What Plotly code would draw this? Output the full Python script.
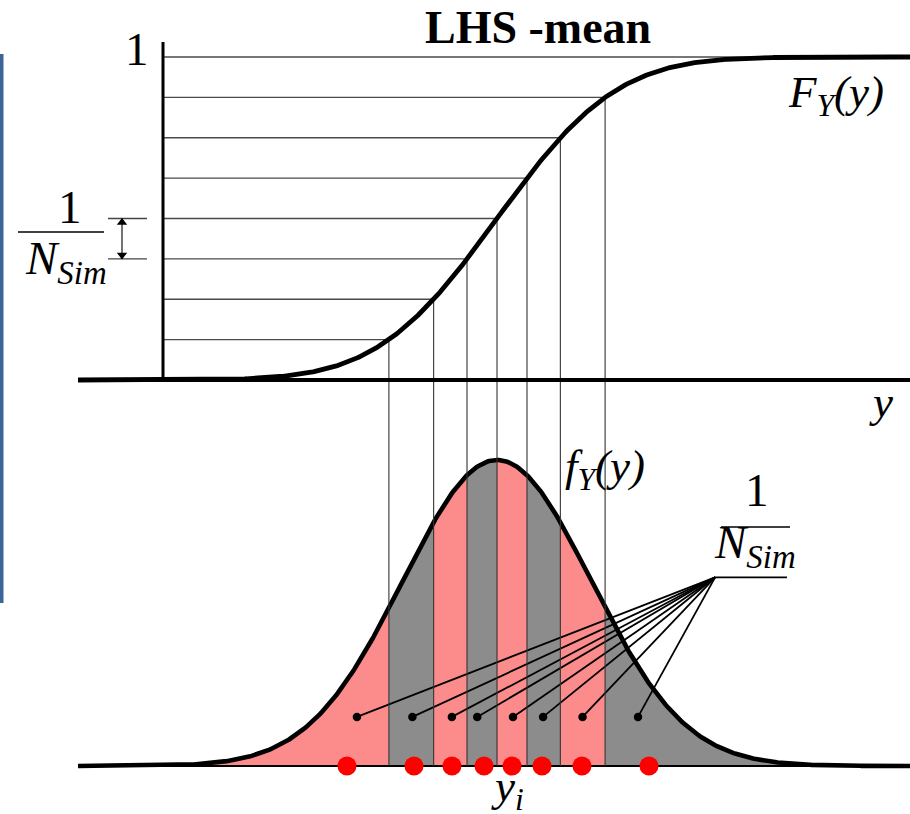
import math
import numpy as np
import plotly.graph_objects as go

W, H = 910, 814
SERIF = "Liberation Serif, Times New Roman, serif"

# ---- distribution of the output y (standard normal) ----
MU, SIGMA = 0.0, 1.0
N_SIM = 8

# probability levels k / N_Sim marked on the CDF axis
prob_levels = [1/8, 2/8, 3/8, 4/8, 5/8, 6/8, 7/8, 1.0]
# stratum edges on the y axis (where F_Y(y) = k / N_Sim)
strata_edges = [-1.150, -0.674, -0.319, 0.0, 0.319, 0.674, 1.150]
strata_colors = ["#fc8c8c", "#8c8c8c", "#fc8c8c", "#8c8c8c",
                 "#fc8c8c", "#8c8c8c", "#fc8c8c", "#8c8c8c"]
# LHS-mean sample points y_i (one per stratum)
y_samples = [-1.596, -0.883, -0.479, -0.138, 0.160, 0.479, 0.904, 1.617]
# dots inside each stratum, pointing to the 1/N_Sim label
label_dots_x = [-1.49, -0.90, -0.48, -0.21, 0.17, 0.49, 0.91, 1.50]
label_dot_level = 0.064
label_hub = (2.32, 0.246)
label_hub_end = 3.085
# bracket showing one probability step on the CDF axis
bracket_levels = [3/8, 4/8]

# ---- page geometry (pixels) ----
X_CENTER_PX, PX_PER_SIGMA = 497, 94
CDF_ZERO_PX, CDF_ONE_PX = 380, 57
PDF_ZERO_PX, PDF_PEAK_PX = 766, 460
AXIS_X_PX, AXIS_TOP_PX = 163, 42
CURVE_START_PX = 78


def xdata(px):
    return (px - X_CENTER_PX) / PX_PER_SIGMA


def pdf(y):
    y = np.asarray(y, dtype=float)
    return np.exp(-0.5 * ((y - MU) / SIGMA) ** 2) / (SIGMA * math.sqrt(2 * math.pi))


def cdf(y):
    return np.array([0.5 * (1 + math.erf((v - MU) / (SIGMA * math.sqrt(2)))) for v in np.atleast_1d(y)])


PEAK = float(pdf(MU))
cdf_scale = CDF_ZERO_PX - CDF_ONE_PX               # px per probability unit
pdf_scale = (PDF_ZERO_PX - PDF_PEAK_PX) / PEAK     # px per density unit
x_range = [xdata(0), xdata(W)]
y2_range = [-(H - CDF_ZERO_PX) / cdf_scale, CDF_ZERO_PX / cdf_scale]
y_range = [-(H - PDF_ZERO_PX) / pdf_scale, PDF_ZERO_PX / pdf_scale]
pdf_base_in_cdf = -(PDF_ZERO_PX - CDF_ZERO_PX) / cdf_scale

x_lo, x_hi = xdata(CURVE_START_PX), x_range[1]
x_axis = xdata(AXIS_X_PX)

fig = go.Figure()

# ---- strata under the density ----
bounds = [x_lo] + strata_edges + [x_hi]
for i in range(N_SIM):
    xs = np.linspace(bounds[i], bounds[i + 1], 120)
    fx = np.concatenate([xs, xs[::-1]])
    fy = np.concatenate([pdf(xs), np.zeros_like(xs)])
    fig.add_trace(go.Scatter(x=fx, y=fy, fill="toself", fillcolor=strata_colors[i],
                             mode="lines", line=dict(width=0), hoverinfo="skip",
                             yaxis="y"))

# ---- horizontal probability levels on the CDF panel ----
hx, hy = [], []
for k, p in enumerate(prob_levels):
    end = strata_edges[k] if k < len(strata_edges) else x_hi
    hx += [x_axis, end, None]
    hy += [p, p, None]
fig.add_trace(go.Scatter(x=hx, y=hy, mode="lines", line=dict(color="#4a4a4a", width=1.4),
                         hoverinfo="skip", yaxis="y2"))

# ---- vertical projections from CDF down to the density baseline ----
vx, vy = [], []
for k, e in enumerate(strata_edges):
    vx += [e, e, None]
    vy += [prob_levels[k], pdf_base_in_cdf, None]
fig.add_trace(go.Scatter(x=vx, y=vy, mode="lines", line=dict(color="#333333", width=1.1),
                         hoverinfo="skip", yaxis="y2"))

# ---- baselines and CDF axis ----
fig.add_trace(go.Scatter(x=[x_lo, x_hi], y=[0, 0], mode="lines",
                         line=dict(color="black", width=2.2), hoverinfo="skip", yaxis="y"))
fig.add_trace(go.Scatter(x=[x_lo, x_hi], y=[0, 0], mode="lines",
                         line=dict(color="black", width=3.8), hoverinfo="skip", yaxis="y2"))
fig.add_trace(go.Scatter(x=[x_axis, x_axis], y=[0, (CDF_ZERO_PX - AXIS_TOP_PX) / cdf_scale],
                         mode="lines", line=dict(color="black", width=3),
                         hoverinfo="skip", yaxis="y2"))

# ---- curves ----
xc = np.linspace(x_lo, x_hi, 600)
fig.add_trace(go.Scatter(x=xc, y=cdf(xc), mode="lines", line=dict(color="black", width=4.8),
                         hoverinfo="skip", yaxis="y2"))
fig.add_trace(go.Scatter(x=xc, y=pdf(xc), mode="lines", line=dict(color="black", width=4.6),
                         hoverinfo="skip", yaxis="y"))

# ---- leader lines to the 1/N_Sim label ----
lx, ly = [], []
for dx in label_dots_x:
    lx += [dx, label_hub[0], None]
    ly += [label_dot_level, label_hub[1], None]
lx += [label_hub[0], label_hub_end]
ly += [label_hub[1], label_hub[1]]
fig.add_trace(go.Scatter(x=lx, y=ly, mode="lines", line=dict(color="black", width=1.8),
                         hoverinfo="skip", yaxis="y"))
fig.add_trace(go.Scatter(x=label_dots_x, y=[label_dot_level] * len(label_dots_x),
                         mode="markers", marker=dict(color="black", size=8.5),
                         hoverinfo="skip", yaxis="y"))

# ---- sample points y_i ----
fig.add_trace(go.Scatter(x=y_samples, y=[0] * len(y_samples), mode="markers",
                         marker=dict(color="#ff0000", size=19, line=dict(width=0)),
                         cliponaxis=False, hoverinfo="skip", yaxis="y"))

# ---- bracket for one probability step ----
bx0, bx1, barrow = xdata(108), xdata(147), xdata(122)
fig.add_trace(go.Scatter(x=[bx0, bx1, None, bx0, bx1],
                         y=[bracket_levels[0], bracket_levels[0], None,
                            bracket_levels[1], bracket_levels[1]],
                         mode="lines", line=dict(color="#444444", width=1.3),
                         hoverinfo="skip", yaxis="y2"))
fig.add_trace(go.Scatter(x=[barrow, barrow], y=bracket_levels, mode="lines",
                         line=dict(color="black", width=1.1), hoverinfo="skip", yaxis="y2"))
fig.add_trace(go.Scatter(x=[barrow, barrow],
                         y=[bracket_levels[0] + 0.012, bracket_levels[1] - 0.012],
                         mode="markers",
                         marker=dict(symbol=["triangle-down", "triangle-up"], size=9,
                                     color="black"),
                         hoverinfo="skip", yaxis="y2"))


def px_to_paper(px, py):
    return px / W, 1 - py / H


def add_text(text, px, py, size):
    xp, yp = px_to_paper(px, py)
    fig.add_annotation(x=xp, y=yp, xref="paper", yref="paper", text=text,
                       showarrow=False, xanchor="center", yanchor="middle",
                       font=dict(family=SERIF, size=size, color="black"))


add_text("<b>LHS -mean</b>", 538, 28, 46)
add_text("1", 137, 49, 47)
add_text("<i>F<sub>Y</sub>(y)</i>", 836, 95, 45)
add_text("<i>y</i>", 881, 402, 45)
add_text("<i>f<sub>Y</sub>(y)</i>", 605, 469, 45)
add_text("<i>y<sub>i</sub></i>", 507, 789, 45)
# 1 / N_Sim (left)
add_text("1", 70, 207, 47)
add_text("<i>N<sub>Sim</sub></i>", 66, 261, 47)
# 1 / N_Sim (right)
add_text("1", 757, 490, 47)
add_text("<i>N<sub>Sim</sub></i>", 755, 545, 47)

shapes = [
    # fraction bars
    dict(type="line", xref="paper", yref="paper",
         x0=18 / W, x1=104 / W, y0=1 - 232 / H, y1=1 - 232 / H,
         line=dict(color="black", width=1.6)),
    dict(type="line", xref="paper", yref="paper",
         x0=721 / W, x1=790 / W, y0=1 - 527 / H, y1=1 - 527 / H,
         line=dict(color="black", width=1.6)),
    # slide edge bar
    dict(type="rect", xref="paper", yref="paper",
         x0=0, x1=3.5 / W, y0=1 - 603 / H, y1=1 - 54 / H,
         fillcolor="#3b6598", line=dict(width=0)),
]

fig.update_layout(
    width=W, height=H,
    margin=dict(l=0, r=0, t=0, b=0),
    paper_bgcolor="white", plot_bgcolor="white",
    showlegend=False,
    xaxis=dict(range=x_range, visible=False, fixedrange=True),
    yaxis=dict(range=y_range, visible=False, domain=[0, 1]),
    yaxis2=dict(range=y2_range, visible=False, overlaying="y"),
    shapes=shapes,
)

fig.write_html("out.html")
